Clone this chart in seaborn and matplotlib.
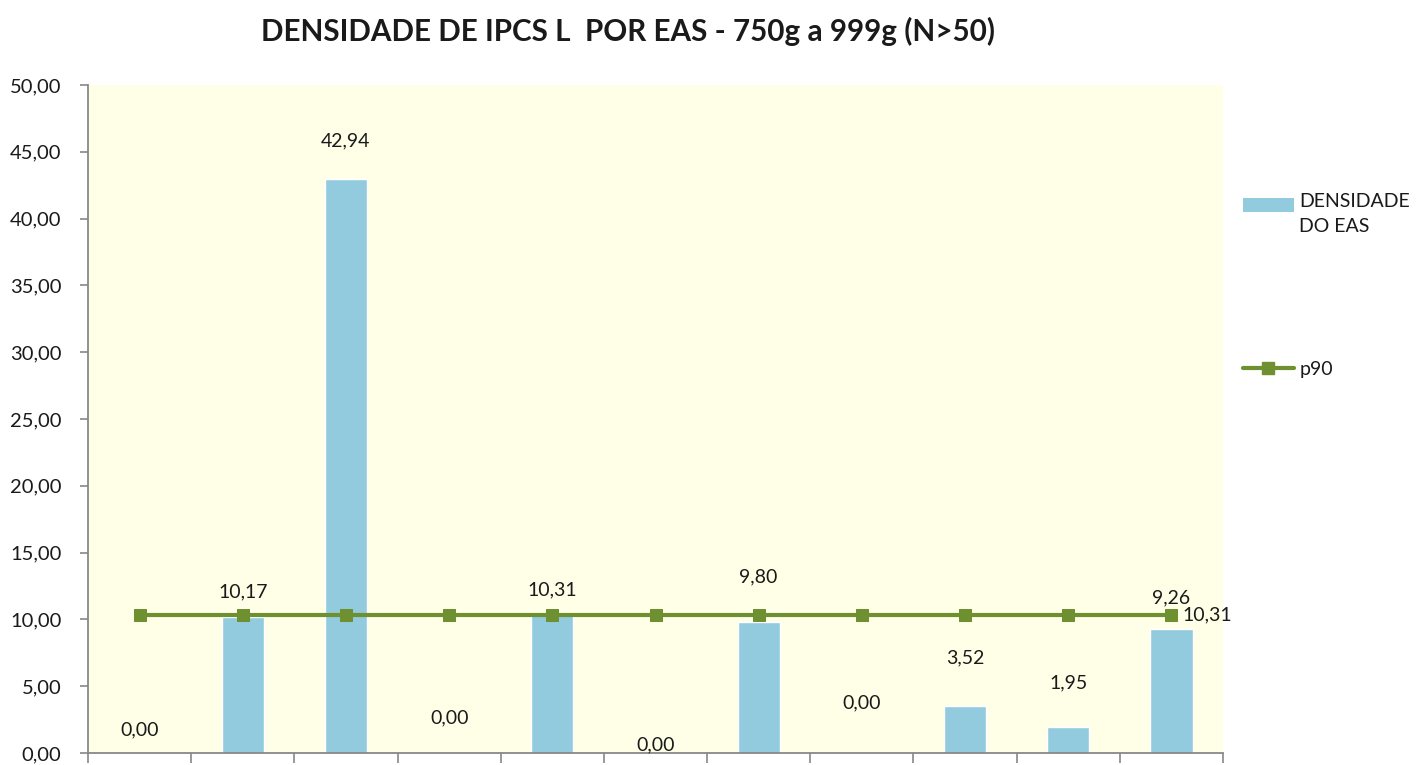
import matplotlib
matplotlib.use("Agg")
import matplotlib.pyplot as plt
import seaborn as sns
import pandas as pd
from matplotlib.patches import Patch, Rectangle
from matplotlib.lines import Line2D
from matplotlib.legend_handler import HandlerPatch

categories = ["1", "2", "3", "4", "5", "6", "7", "8", "9", "10", "11"]
densidade = [0.00, 10.17, 42.94, 0.00, 10.31, 0.00, 9.80, 0.00, 3.52, 1.95, 9.26]
p90 = [10.31] * 11
y_ticks = [0, 5, 10, 15, 20, 25, 30, 35, 40, 45, 50]

# label offsets above bar tops (pixels) - styling only
label_offsets_px = [23, 25, 38, 35, 25, 8, 45, 50, 48, 44, 31]

sns.set_theme(style="white")
plt.rcParams["font.family"] = ["Lato", "DejaVu Sans"]

BAR = "#92CBDD"
GREEN = "#6E9030"
BG = "#FFFFE8"
TXT = "#1a1a1a"

fig = plt.figure(figsize=(14.28, 7.65), dpi=100)
ax = fig.add_axes([88 / 1428, 12 / 765, (1223 - 88) / 1428, (753 - 85) / 765])
ax.set_facecolor(BG)

df = pd.DataFrame({"cat": categories, "val": densidade, "pos": range(len(categories)), "p90": p90})
sns.barplot(data=df, x="cat", y="val", color=BAR, width=0.41, saturation=1, ax=ax, zorder=2)
sns.lineplot(data=df, x="pos", y="p90", color=GREEN, lw=3.0, marker="s", markersize=8,
             markeredgecolor=GREEN, ax=ax, zorder=3)

ax.set_xlim(-0.5, len(categories) - 0.5)
ax.set_ylim(0, 50)
ax.set_yticks(y_ticks)
ax.set_yticklabels([f"{v:.2f}".replace(".", ",") for v in y_ticks], fontsize=14.5, color=TXT)
ax.set_xticks([i - 0.5 for i in range(len(categories) + 1)])
ax.set_xticklabels([])
ax.set_xlabel("")
ax.set_ylabel("")
ax.tick_params(axis="y", length=6, width=1.2, color="#888888", pad=13, left=True)
ax.tick_params(axis="x", length=7, width=1.2, color="#888888", bottom=True, direction="out")
for s in ["top", "right"]:
    ax.spines[s].set_visible(False)
for s in ["left", "bottom"]:
    ax.spines[s].set_color("#888888")
    ax.spines[s].set_linewidth(1.3)
ax.grid(False)

for i, (v, off) in enumerate(zip(densidade, label_offsets_px)):
    ax.annotate(f"{v:.2f}".replace(".", ","), (i, v), xytext=(0, off * 0.72),
                textcoords="offset points", ha="center", va="center", fontsize=14, color=TXT)

ax.annotate(f"{p90[-1]:.2f}".replace(".", ","), (len(categories) - 1, p90[-1]), xytext=(26, 0),
            textcoords="offset points", ha="center", va="center", fontsize=14, color=TXT)

fig.text(628 / 1428, 1 - 31 / 765, "DENSIDADE DE IPCS L  POR EAS - 750g a 999g (N>50)",
         ha="center", va="center", fontsize=21.3, fontweight="bold", color=TXT)


def top_patch(legend, orig_handle, xdescent, ydescent, width, height, fontsize):
    h = 0.72 * fontsize
    return Rectangle((-xdescent, -ydescent + height - h - 0.05 * fontsize), width, h)


bar_handle = Patch(facecolor=BAR, edgecolor="none")
line_handle = Line2D([0], [0], color=GREEN, lw=3.0, marker="s", markersize=8)
leg1 = fig.legend([bar_handle], ["DENSIDADE\nDO EAS"], loc="upper left",
                  bbox_to_anchor=(1243 / 1428, 1 - 193 / 765), frameon=False, fontsize=14,
                  handlelength=2.6, handleheight=2.4, handletextpad=0.3,
                  borderaxespad=0, borderpad=0,
                  handler_map={Patch: HandlerPatch(patch_func=top_patch)})
for t in leg1.get_texts():
    t.set_color(TXT)
    t.set_linespacing(1.55)
leg2 = fig.legend([line_handle], ["p90"], loc="center left",
                  bbox_to_anchor=(1243 / 1428, 1 - 369 / 765), frameon=False, fontsize=14,
                  handlelength=2.6, handletextpad=0.3, borderaxespad=0, borderpad=0)
for t in leg2.get_texts():
    t.set_color(TXT)

fig.savefig("out.png", dpi=100, facecolor="white")
